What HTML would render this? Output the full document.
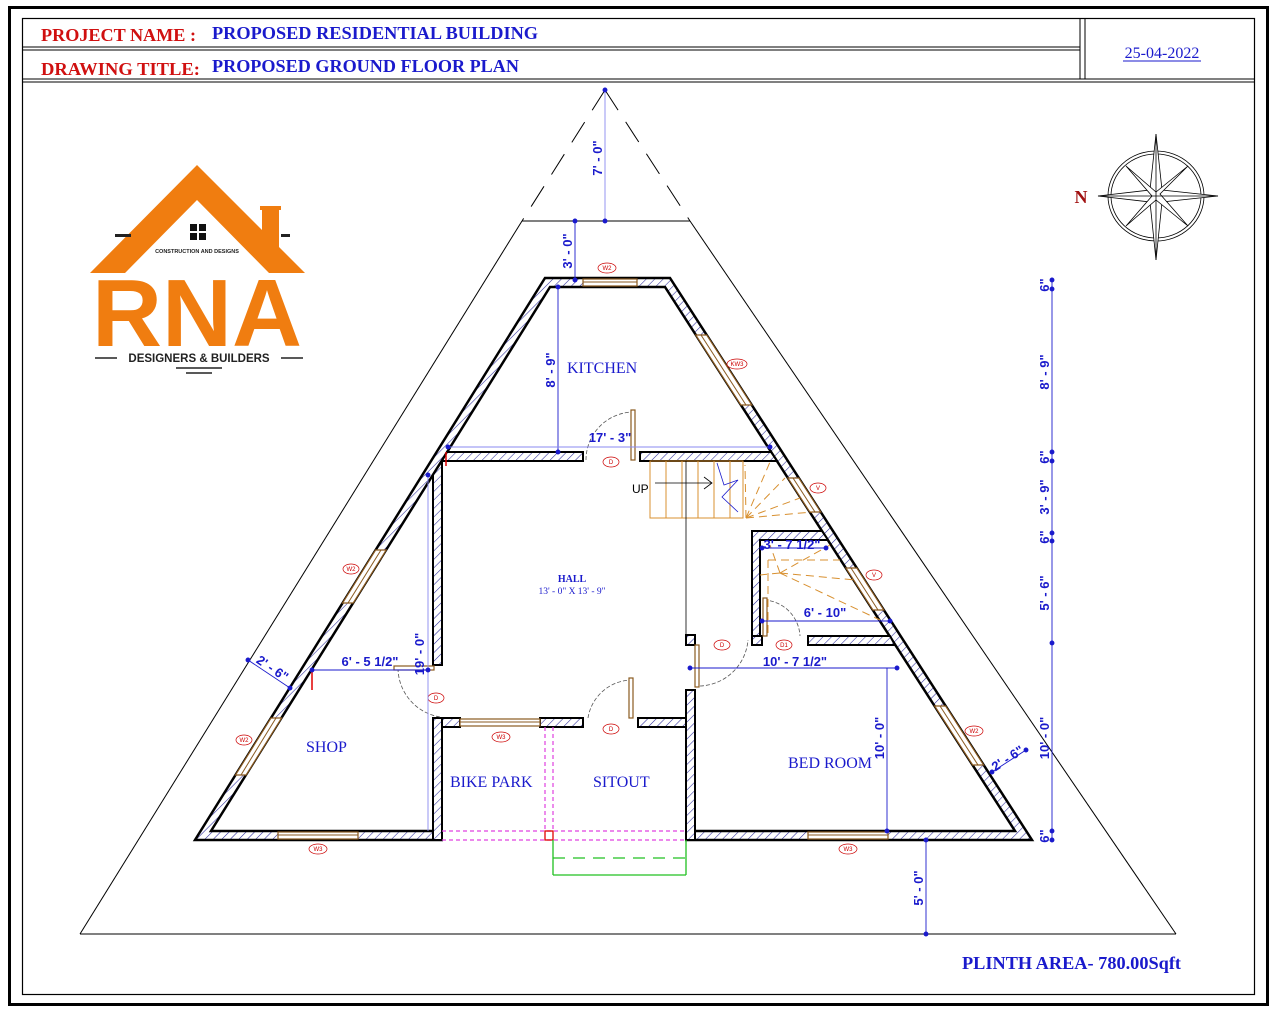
<!DOCTYPE html>
<html><head><meta charset="utf-8"><style>
html,body{margin:0;padding:0;background:#fff;}
svg{display:block;}
.d{font-family:"Liberation Sans",sans-serif;font-weight:bold;font-size:13px;fill:#1a1acc;}
.r{font-family:"Liberation Serif",serif;fill:#1a1acc;}
.tag{font-family:"Liberation Sans",sans-serif;font-size:6px;fill:#c00;text-anchor:middle;}
</style></head><body>
<svg width="1280" height="1018" viewBox="0 0 1280 1018" xmlns="http://www.w3.org/2000/svg">
<defs>
<pattern id="h" width="6" height="6" patternUnits="userSpaceOnUse" patternTransform="rotate(45)">
<rect width="6" height="6" fill="#fff"/><line x1="0" y1="0" x2="0" y2="6" stroke="#2a2a9a" stroke-width="1.1"/>
</pattern>
</defs>
<rect x="0" y="0" width="1280" height="1018" fill="#fff"/>
<rect x="9.5" y="7.5" width="1258" height="997" fill="none" stroke="#000" stroke-width="3"/>
<rect x="22.5" y="18.5" width="1232" height="976" fill="none" stroke="#000" stroke-width="1.2"/>
<line x1="22" y1="47" x2="1080" y2="47" stroke="#000" stroke-width="1"/>
<line x1="22" y1="50" x2="1080" y2="50" stroke="#000" stroke-width="1"/>
<line x1="22" y1="79" x2="1255" y2="79" stroke="#000" stroke-width="1"/>
<line x1="22" y1="82" x2="1255" y2="82" stroke="#000" stroke-width="1"/>
<line x1="1080" y1="18" x2="1080" y2="79" stroke="#000"/>
<line x1="1085" y1="18" x2="1085" y2="79" stroke="#000"/>
<text x="41" y="41" font-family="Liberation Serif,serif" font-weight="bold" font-size="18" fill="#d01010" textLength="155" lengthAdjust="spacingAndGlyphs">PROJECT NAME :</text>
<text x="212" y="39" font-family="Liberation Serif,serif" font-weight="bold" font-size="18" fill="#1a1acc" textLength="326" lengthAdjust="spacingAndGlyphs">PROPOSED RESIDENTIAL BUILDING</text>
<text x="41" y="75" font-family="Liberation Serif,serif" font-weight="bold" font-size="18" fill="#d01010" textLength="159" lengthAdjust="spacingAndGlyphs">DRAWING TITLE:</text>
<text x="212" y="72" font-family="Liberation Serif,serif" font-weight="bold" font-size="18" fill="#1a1acc" textLength="307" lengthAdjust="spacingAndGlyphs">PROPOSED GROUND FLOOR PLAN</text>
<text x="1162" y="58" text-anchor="middle" font-family="Liberation Serif,serif" font-size="16" fill="#1a1acc">25-04-2022</text>
<line x1="1123" y1="61" x2="1201" y2="61" stroke="#1a1acc"/>

<!-- logo -->
<g>
<polygon points="197,165 90,273 125,273 197,200 269,273 305,273" fill="#f07d10"/>
<rect x="262" y="208" width="17" height="40" fill="#f07d10"/>
<rect x="260" y="206" width="21" height="4" fill="#f07d10"/>
<rect x="115" y="234" width="16" height="3" fill="#222"/>
<rect x="281" y="234" width="9" height="3" fill="#222"/>
<rect x="190" y="224" width="7" height="7" fill="#111"/><rect x="199" y="224" width="7" height="7" fill="#111"/>
<rect x="190" y="233" width="7" height="7" fill="#111"/><rect x="199" y="233" width="7" height="7" fill="#111"/>
<text x="197" y="253" text-anchor="middle" font-family="Liberation Sans,sans-serif" font-weight="bold" font-size="5.5" fill="#222">CONSTRUCTION AND DESIGNS</text>
<text x="197" y="346" text-anchor="middle" font-family="Liberation Sans,sans-serif" font-weight="bold" font-size="96" fill="#f07d10" textLength="210" lengthAdjust="spacingAndGlyphs">RNA</text>
<text x="199" y="362" text-anchor="middle" font-family="Liberation Sans,sans-serif" font-weight="bold" font-size="11.5" fill="#222">DESIGNERS &amp; BUILDERS</text>
<line x1="95" y1="358" x2="117" y2="358" stroke="#222" stroke-width="1.5"/>
<line x1="281" y1="358" x2="303" y2="358" stroke="#222" stroke-width="1.5"/>
<line x1="176" y1="368" x2="222" y2="368" stroke="#222" stroke-width="1.5"/>
<line x1="186" y1="373" x2="212" y2="373" stroke="#222" stroke-width="1.5"/>
</g>

<!-- compass -->
<g stroke="#000" fill="none" stroke-width="0.8">
<ellipse cx="1156" cy="196" rx="48" ry="45"/>
<ellipse cx="1156" cy="196" rx="45" ry="42"/>
<polygon points="1156,134 1162,190 1218,196 1162,202 1156,260 1150,202 1098,196 1150,190" fill="#fff"/>
<polygon points="1188,166 1160,194 1188,226 1156,200 1126,226 1152,196 1126,166 1156,192" fill="#fff"/>
<line x1="1156" y1="134" x2="1156" y2="260"/><line x1="1098" y1="196" x2="1218" y2="196"/>
</g>
<text x="1081" y="203" text-anchor="middle" font-family="Liberation Serif,serif" font-weight="bold" font-size="18" fill="#a01010">N</text>

<!-- plot triangle -->
<g stroke="#000" stroke-width="1" fill="none">
<line x1="605" y1="90" x2="522" y2="221" stroke-dasharray="24,14"/>
<line x1="605" y1="90" x2="690" y2="221" stroke-dasharray="24,14"/>
<line x1="522" y1="221" x2="690" y2="221"/>
<line x1="522" y1="221" x2="80" y2="934"/>
<line x1="690" y1="221" x2="1176" y2="934"/>
<line x1="80" y1="934" x2="1176" y2="934"/>
</g>

<!-- outer walls -->
<path d="M545,278 L670,278 L1032,840 L195,840 Z M550,287 L211,831 L1015,831 L665,287 Z" fill="url(#h)" fill-rule="evenodd" stroke="#000" stroke-width="2.5"/>
<rect x="443" y="829" width="242" height="13" fill="#fff"/>

<!-- interior walls -->
<g fill="url(#h)" stroke="#000" stroke-width="2">
<polygon points="447,452 583,452 583,461 442,461"/>
<polygon points="640,452 771,452 777,461 640,461"/>
<polygon points="442,461 442,665 433,665 433,475"/>
<rect x="433" y="718" width="9" height="122"/>
<rect x="442" y="718" width="18" height="9"/>
<rect x="540" y="718" width="43" height="9"/>
<rect x="638" y="718" width="48" height="9"/>
<rect x="686" y="690" width="9" height="150"/>
<rect x="686" y="635" width="9" height="10"/>
<polygon points="752,531 822,531 828,540 760,540 760,645 752,645"/>
<rect x="752" y="636" width="10" height="9"/>
<polygon points="808,636 890,636 895,645 808,645"/>
</g>

<!-- windows -->
<g fill="#fff" stroke="#8a5a20" stroke-width="1.2">
<rect x="583" y="279" width="54" height="7"/>
<rect x="460" y="719" width="80" height="7"/>
<rect x="278" y="832" width="80" height="7"/>
<rect x="808" y="832" width="80" height="7"/>
<polygon points="375.6,550 386.2,550 353.2,603 342.6,603"/>
<polygon points="271,718 281.6,718 246.1,775 235.5,775"/>
<polygon points="706.7,335 695.8,335 740.9,405 751.8,405"/>
<polygon points="798.8,478 787.9,478 809.8,512 820.7,512"/>
<polygon points="856.8,568 845.9,568 872.9,610 883.8,610"/>
<polygon points="945.6,706 934.7,706 972.7,765 983.6,765"/>
</g>
<g stroke="#8a5a20" stroke-width="1" fill="none">
<line x1="583" y1="282" x2="637" y2="282"/><line x1="460" y1="722" x2="540" y2="722"/>
<line x1="278" y1="835" x2="358" y2="835"/><line x1="808" y1="835" x2="888" y2="835"/>
<line x1="381" y1="550" x2="348" y2="603"/><line x1="276" y1="718" x2="241" y2="775"/>
<line x1="701" y1="335" x2="746" y2="405"/><line x1="793" y1="478" x2="815" y2="512"/>
<line x1="851" y1="568" x2="878" y2="610"/><line x1="940" y1="706" x2="978" y2="765"/>
</g>

<!-- tags -->
<g fill="#fff" stroke="#c00" stroke-width="0.7">
<ellipse cx="607" cy="268" rx="9" ry="5"/><ellipse cx="737" cy="364" rx="10" ry="5"/>
<ellipse cx="611" cy="462" rx="8" ry="5"/><ellipse cx="818" cy="488" rx="8" ry="5"/>
<ellipse cx="874" cy="575" rx="8" ry="5"/><ellipse cx="784" cy="645" rx="8" ry="5"/>
<ellipse cx="722" cy="645" rx="8" ry="5"/><ellipse cx="351" cy="569" rx="8" ry="5"/>
<ellipse cx="436" cy="698" rx="8" ry="5"/><ellipse cx="501" cy="737" rx="9" ry="5"/>
<ellipse cx="611" cy="729" rx="8" ry="5"/><ellipse cx="244" cy="740" rx="8" ry="5"/>
<ellipse cx="318" cy="849" rx="9" ry="5"/><ellipse cx="848" cy="849" rx="9" ry="5"/>
<ellipse cx="974" cy="731" rx="9" ry="5"/>
</g>
<g class="tag">
<text x="607" y="270">W2</text><text x="737" y="366">KW3</text><text x="611" y="464">D</text>
<text x="818" y="490">V</text><text x="874" y="577">V</text><text x="784" y="647">D1</text>
<text x="722" y="647">D</text><text x="351" y="571">W2</text><text x="436" y="700">D</text>
<text x="501" y="739">W3</text><text x="611" y="731">D</text><text x="244" y="742">W2</text>
<text x="318" y="851">W3</text><text x="848" y="851">W3</text><text x="974" y="733">W2</text>
</g>

<!-- doors -->
<g fill="none" stroke="#555" stroke-width="0.8" stroke-dasharray="4,2">
<path d="M586,460 A48,48 0 0 1 634,412"/>
<path d="M398,668 A50,50 0 0 0 440,717"/>
<path d="M588,718 A45,45 0 0 1 632,680"/>
<path d="M700,686 A50,50 0 0 0 748,640"/>
<path d="M764,600 A38,38 0 0 1 800,636"/>
</g>
<g fill="#fff" stroke="#8a5a20" stroke-width="1.2">
<rect x="631" y="410" width="4" height="50"/>
<rect x="629" y="678" width="4" height="40"/>
<rect x="695" y="645" width="4" height="42"/>
<rect x="763" y="598" width="4" height="38"/>
<rect x="394" y="666" width="40" height="4"/>
</g>

<!-- stairs -->
<g stroke="#d89030" stroke-width="1" fill="none">
<rect x="650" y="461" width="93" height="57"/>
<line x1="666" y1="461" x2="666" y2="518"/><line x1="682" y1="461" x2="682" y2="518"/>
<line x1="698" y1="461" x2="698" y2="518"/><line x1="714" y1="461" x2="714" y2="518"/>
<line x1="730" y1="461" x2="730" y2="518"/>
<g stroke-dasharray="8,5">
<line x1="746" y1="518" x2="745" y2="465"/><line x1="746" y1="518" x2="770" y2="462"/>
<line x1="746" y1="518" x2="785" y2="478"/><line x1="746" y1="518" x2="800" y2="498"/>
<line x1="746" y1="518" x2="812" y2="512"/>
<line x1="780" y1="573" x2="770" y2="545"/><line x1="780" y1="573" x2="830" y2="545"/>
<line x1="780" y1="573" x2="855" y2="580"/><line x1="780" y1="573" x2="880" y2="620"/>
<line x1="780" y1="573" x2="760" y2="575"/>
<line x1="768" y1="560" x2="768" y2="636"/><line x1="768" y1="560" x2="840" y2="560"/>
</g>
</g>
<path d="M655,483 L712,483 M704,477 L712,483 L704,489" stroke="#000" stroke-width="0.8" fill="none"/>
<path d="M717,463 L724,485 L738,480 L722,497 L738,512" stroke="#1a1acc" stroke-width="0.8" fill="none"/>
<text x="632" y="493" font-family="Liberation Sans,sans-serif" font-size="12" fill="#000">UP</text>
<line x1="686" y1="461" x2="686" y2="635" stroke="#000" stroke-width="0.8"/>

<!-- porch lines -->
<g stroke="#e040e0" stroke-width="1.2" stroke-dasharray="4,3" fill="none">
<line x1="442" y1="831" x2="686" y2="831"/><line x1="442" y1="840" x2="686" y2="840"/>
<line x1="545" y1="727" x2="545" y2="831"/><line x1="553" y1="727" x2="553" y2="831"/>
</g>
<rect x="545" y="831" width="8" height="9" fill="none" stroke="#e00000" stroke-width="1.3"/>
<g stroke="#20c020" stroke-width="1.3" fill="none">
<line x1="553" y1="840" x2="553" y2="875"/><line x1="686" y1="840" x2="686" y2="875"/>
<line x1="553" y1="875" x2="686" y2="875"/>
<line x1="553" y1="858" x2="686" y2="858" stroke-dasharray="12,8"/>
</g>
<line x1="312" y1="670" x2="312" y2="690" stroke="#e00000" stroke-width="1.5"/>
<line x1="446" y1="452" x2="446" y2="466" stroke="#e00000" stroke-width="1.5"/>

<!-- dimension lines -->
<g stroke="#1a1acc" stroke-width="0.9" fill="#1a1acc">
<line x1="605" y1="90" x2="605" y2="221" stroke="#8a8af0"/>
<line x1="575" y1="221" x2="575" y2="280"/>
<line x1="558" y1="287" x2="558" y2="452"/>
<line x1="448" y1="447" x2="770" y2="447" stroke="#8a8af0"/>
<line x1="428" y1="475" x2="428" y2="831" stroke="#8a8af0"/>
<line x1="312" y1="670" x2="428" y2="670"/>
<line x1="248" y1="660" x2="290" y2="688"/>
<line x1="762" y1="548" x2="826" y2="548"/>
<line x1="762" y1="621" x2="890" y2="621"/>
<line x1="690" y1="668" x2="897" y2="668"/>
<line x1="887" y1="668" x2="887" y2="831"/>
<line x1="926" y1="840" x2="926" y2="934"/>
<line x1="992" y1="772" x2="1026" y2="750"/>
<line x1="1052" y1="280" x2="1052" y2="840"/>
<circle cx="605" cy="90" r="2"/><circle cx="605" cy="221" r="2"/><circle cx="575" cy="221" r="2"/><circle cx="575" cy="280" r="2"/>
<circle cx="558" cy="287" r="2"/><circle cx="558" cy="452" r="2"/><circle cx="448" cy="447" r="2"/><circle cx="770" cy="447" r="2"/>
<circle cx="428" cy="475" r="2"/><circle cx="312" cy="670" r="2"/><circle cx="428" cy="670" r="2"/>
<circle cx="248" cy="660" r="2"/><circle cx="290" cy="688" r="2"/>
<circle cx="762" cy="548" r="2"/><circle cx="826" cy="548" r="2"/><circle cx="762" cy="621" r="2"/><circle cx="890" cy="621" r="2"/>
<circle cx="690" cy="668" r="2"/><circle cx="897" cy="668" r="2"/><circle cx="887" cy="831" r="2"/>
<circle cx="926" cy="840" r="2"/><circle cx="926" cy="934" r="2"/><circle cx="992" cy="772" r="2"/><circle cx="1026" cy="750" r="2"/>
<circle cx="1052" cy="280" r="2"/><circle cx="1052" cy="289" r="2"/><circle cx="1052" cy="452" r="2"/><circle cx="1052" cy="461" r="2"/>
<circle cx="1052" cy="533" r="2"/><circle cx="1052" cy="541" r="2"/><circle cx="1052" cy="643" r="2"/><circle cx="1052" cy="831" r="2"/><circle cx="1052" cy="840" r="2"/>
</g>
<g class="d">
<text transform="translate(602,158) rotate(-90)" text-anchor="middle">7' - 0"</text>
<text transform="translate(572,251) rotate(-90)" text-anchor="middle">3' - 0"</text>
<text transform="translate(555,370) rotate(-90)" text-anchor="middle">8' - 9"</text>
<text x="610" y="442" text-anchor="middle">17' - 3"</text>
<text transform="translate(424,654) rotate(-90)" text-anchor="middle">19' - 0"</text>
<text x="370" y="666" text-anchor="middle">6' - 5 1/2"</text>
<text transform="translate(270,672) rotate(34)" text-anchor="middle">2' - 6"</text>
<text x="792" y="549" text-anchor="middle">3' - 7 1/2"</text>
<text x="825" y="617" text-anchor="middle">6' - 10"</text>
<text x="795" y="666" text-anchor="middle">10' - 7 1/2"</text>
<text transform="translate(884,738) rotate(-90)" text-anchor="middle">10' - 0"</text>
<text transform="translate(923,888) rotate(-90)" text-anchor="middle">5' - 0"</text>
<text transform="translate(1010,762) rotate(-33)" text-anchor="middle">2' - 6"</text>
<text transform="translate(1049,285) rotate(-90)" text-anchor="middle">6"</text>
<text transform="translate(1049,372) rotate(-90)" text-anchor="middle">8' - 9"</text>
<text transform="translate(1049,457) rotate(-90)" text-anchor="middle">6"</text>
<text transform="translate(1049,497) rotate(-90)" text-anchor="middle">3' - 9"</text>
<text transform="translate(1049,537) rotate(-90)" text-anchor="middle">6"</text>
<text transform="translate(1049,593) rotate(-90)" text-anchor="middle">5' - 6"</text>
<text transform="translate(1049,738) rotate(-90)" text-anchor="middle">10' - 0"</text>
<text transform="translate(1049,836) rotate(-90)" text-anchor="middle">6"</text>
</g>

<!-- room labels -->
<g class="r">
<text x="567" y="373" font-size="16">KITCHEN</text>
<text x="572" y="582" font-size="10" font-weight="bold" text-anchor="middle">HALL</text>
<text x="572" y="594" font-size="9.5" text-anchor="middle">13' - 0" X 13' - 9"</text>
<text x="306" y="752" font-size="16">SHOP</text>
<text x="450" y="787" font-size="16">BIKE PARK</text>
<text x="593" y="787" font-size="16">SITOUT</text>
<text x="788" y="768" font-size="16">BED ROOM</text>
<text x="962" y="969" font-size="18" font-weight="bold" textLength="219" lengthAdjust="spacingAndGlyphs">PLINTH AREA- 780.00Sqft</text>
</g>
</svg>
</body></html>
